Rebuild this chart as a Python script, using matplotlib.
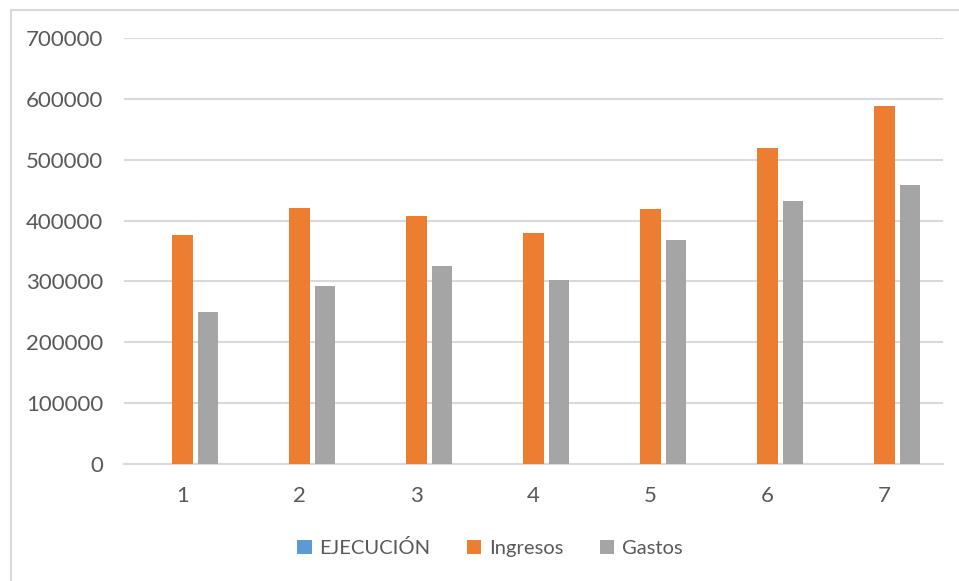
import numpy as np
import matplotlib.pyplot as plt
from matplotlib.patches import Rectangle

plt.rcParams['font.family'] = ['Lato', 'DejaVu Sans']

# datos
categorias = [1, 2, 3, 4, 5, 6, 7]
ejecucion = [0, 0, 0, 0, 0, 0, 0]
ingresos = [377000, 421000, 408000, 379000, 419000, 520000, 588000]
gastos = [250000, 292000, 326000, 303000, 368000, 432000, 459000]

W, H = 959, 581
fig = plt.figure(figsize=(W / 100, H / 100), dpi=100)
fig.patch.set_facecolor('white')

# borde del area del grafico
fig.patches.append(Rectangle((11 / W, -0.1), 1.2, 1 - 10 / H + 0.1,
                             transform=fig.transFigure, fill=False,
                             edgecolor='#d9d9d9', linewidth=1.5))

ax = fig.add_axes([124 / W, (H - 464) / H, (943 - 124) / W, (464 - 38) / H])

x = np.array(categorias)
w = 0.174
d = 0.22
ax.bar(x - d, ejecucion, w, color='#5b9bd5', label='EJECUCIÓN', zorder=3)
ax.bar(x, ingresos, w, color='#ed7d31', label='Ingresos', zorder=3)
ax.bar(x + d, gastos, w, color='#a5a5a5', label='Gastos', zorder=3)

ax.set_xlim(0.5, 7.5)
ax.set_ylim(0, 700000)
ax.set_yticks(np.arange(0, 700001, 100000))
ax.set_xticks(x)
ax.yaxis.grid(True, color='#d9d9d9', linewidth=1.5, zorder=0)
for s in ['top', 'right', 'left']:
    ax.spines[s].set_visible(False)
ax.spines['bottom'].set_color('#d9d9d9')
ax.spines['bottom'].set_linewidth(1.5)
ax.tick_params(length=0, labelsize=16, labelcolor='#595959')
ax.tick_params(axis='y', pad=15)
ax.tick_params(axis='x', pad=16)

fig.legend(loc='center', bbox_to_anchor=(490 / W, 1 - 548 / H), ncol=3,
           frameon=False, fontsize=14.5, labelcolor='#595959',
           handlelength=0.7, handleheight=0.7, handletextpad=0.4,
           columnspacing=1.8)

fig.savefig('out.png', dpi=100)
